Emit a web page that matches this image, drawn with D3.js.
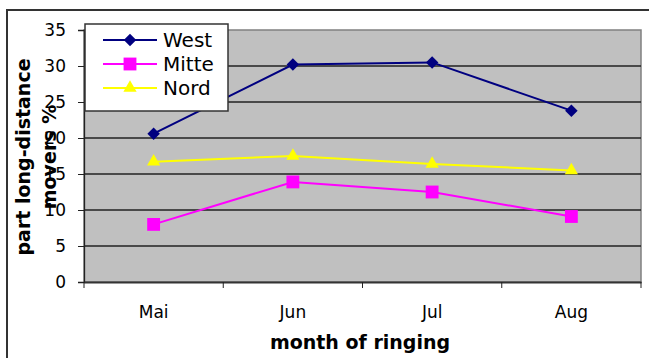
<!DOCTYPE html>
<html><head><meta charset="utf-8">
<script src="https://cdn.jsdelivr.net/npm/d3@7"></script>
<style>body{margin:0;background:#fff;font-family:"DejaVu Sans",sans-serif}</style>
</head><body><svg id="c" width="649" height="358"></svg>
<script>
const months = ["Mai","Jun","Jul","Aug"];
const west = [20.6, 30.2, 30.5, 23.8];
const mitte = [8.0, 13.9, 12.5, 9.1];
const nord = [16.7, 17.5, 16.4, 15.5];
const yTicks = [0,5,10,15,20,25,30,35];
const seriesNames = ["West","Mitte","Nord"];

const FONT = "DejaVu Sans";
const series = [
  {name: seriesNames[0], values: west, color: "#000080", sym: "diamond"},
  {name: seriesNames[1], values: mitte, color: "#FF00FF", sym: "square"},
  {name: seriesNames[2], values: nord, color: "#FFFF00", sym: "triangle"}
];
function symPath(kind){
  if (kind === "square") return d3.symbol().type(d3.symbolSquare).size(165)();
  if (kind === "triangle") return d3.symbol().type(d3.symbolTriangle).size(76)();
  return d3.symbol().type(d3.symbolSquare).size(78)();
}
function symRot(kind){ return kind === "diamond" ? " rotate(45)" : ""; }

const svg = d3.select("#c");
const L = 84, R = 641, T = 30, B = 282;
const x = d3.scaleBand().domain(months).range([L, R]);
const y = d3.scaleLinear().domain([0,35]).range([B, T]);

// outer border
svg.append("rect").attr("x",7).attr("y",10).attr("width",700).attr("height",400)
  .attr("fill","none").attr("stroke","#333").attr("stroke-width",2);

// plot background
svg.append("rect").attr("x",L).attr("y",T).attr("width",R-L).attr("height",B-T)
  .attr("fill","#C0C0C0").attr("stroke","#808080").attr("stroke-width",1.5);

// gridlines
svg.append("g").selectAll("line").data(yTicks.filter(d=>d>0 && d<35)).join("line")
  .attr("x1",L).attr("x2",R).attr("y1",d=>y(d)).attr("y2",d=>y(d))
  .attr("stroke","#222").attr("stroke-width",1.3);

// y axis
const ya = svg.append("g").attr("transform",`translate(${L},0)`)
  .call(d3.axisLeft(y).tickValues(yTicks).tickSize(6).tickPadding(12));
ya.select(".domain").attr("stroke","#222").attr("stroke-width",1.3);
ya.selectAll(".tick line").attr("stroke","#222");
ya.selectAll("text").attr("font-size",17).attr("fill","#000").attr("font-family",FONT);

// x axis
const xa = svg.append("g").attr("transform",`translate(0,${B})`)
  .call(d3.axisBottom(x).tickSize(0).tickPadding(0));
xa.select(".domain").attr("stroke","#333").attr("stroke-width",2);
xa.selectAll("text").attr("font-size",17).attr("fill","#000").attr("font-family",FONT)
  .attr("dy",null).attr("y",36);
// category boundary ticks
svg.append("g").selectAll("line").data(months.concat(["_end"])).join("line")
  .attr("x1",(d,i)=>L + i*x.bandwidth()).attr("x2",(d,i)=>L + i*x.bandwidth())
  .attr("y1",B).attr("y2",B+6).attr("stroke","#222").attr("stroke-width",1);

// lines and markers
const line = d3.line().x((d,i)=>x(months[i])+x.bandwidth()/2).y(d=>y(d));
series.forEach(s=>{
  svg.append("path").datum(s.values).attr("d",line).attr("fill","none")
    .attr("stroke",s.color).attr("stroke-width",2);
  svg.append("g").selectAll("path").data(s.values).join("path")
    .attr("transform",(d,i)=>`translate(${x(months[i])+x.bandwidth()/2},${y(d)})${symRot(s.sym)}`)
    .attr("d",symPath(s.sym))
    .attr("fill",s.color);
});

// legend
const lg = svg.append("g");
lg.append("rect").attr("x",85).attr("y",24).attr("width",143).attr("height",87)
  .attr("fill","#fff").attr("stroke","#333").attr("stroke-width",1.5);
series.forEach((s,i)=>{
  const yy = 40 + i*24;
  lg.append("line").attr("x1",103).attr("x2",157).attr("y1",yy).attr("y2",yy)
    .attr("stroke",s.color).attr("stroke-width",2);
  lg.append("path").attr("transform",`translate(130,${yy})${symRot(s.sym)}`)
    .attr("d",symPath(s.sym)).attr("fill",s.color);
  lg.append("text").attr("x",163).attr("y",yy+7).attr("font-size",20)
    .attr("font-family",FONT).text(s.name);
});

// axis titles
svg.append("text").attr("x",360).attr("y",349).attr("text-anchor","middle")
  .attr("font-family",FONT).attr("font-size",19).attr("font-weight","bold").text("month of ringing");
const yt = svg.append("text").attr("transform","translate(30,157) rotate(-90)")
  .attr("text-anchor","middle").attr("font-family",FONT).attr("font-size",19).attr("font-weight","bold");
yt.append("tspan").attr("x",0).attr("y",0).text("part long-distance");
yt.append("tspan").attr("x",0).attr("y",26).text("movers %");
</script></body></html>
